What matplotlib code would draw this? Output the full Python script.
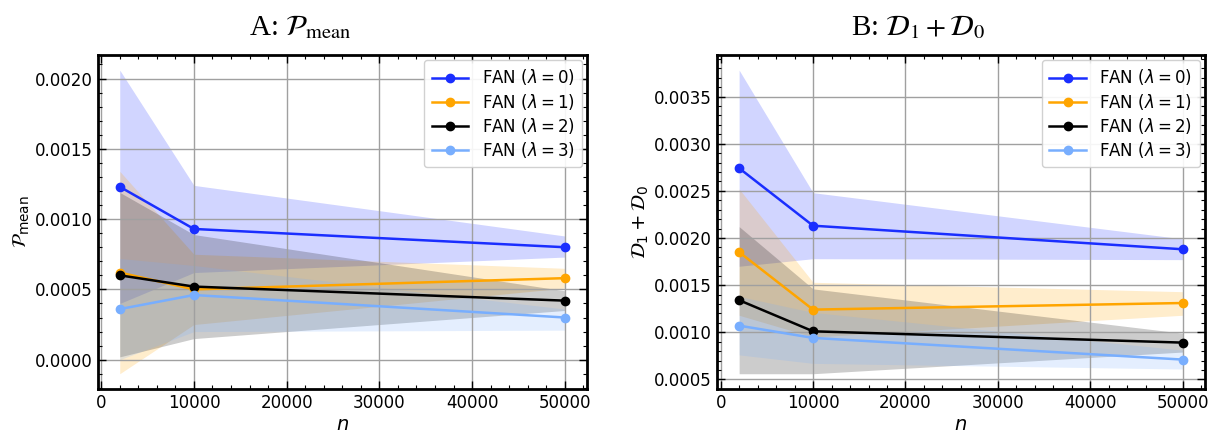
import numpy as np
import matplotlib
matplotlib.use("Agg")
import matplotlib.pyplot as plt
from matplotlib.ticker import AutoMinorLocator

# sample sizes
n_values = [2000, 10000, 50000]
labels = [r"FAN ($\lambda=0$)", r"FAN ($\lambda=1$)", r"FAN ($\lambda=2$)", r"FAN ($\lambda=3$)"]
colors = ["#1a2eff", "orange", "black", "#78aefe"]

# panel A: P_mean, mean and band (lower, upper)
pmean_mean = [
    [0.00123, 0.00093, 0.00080],
    [0.00062, 0.00050, 0.00058],
    [0.00060, 0.00052, 0.00042],
    [0.00036, 0.00046, 0.00030],
]
pmean_low = [
    [0.00040, 0.00062, 0.00073],
    [-0.00010, 0.00025, 0.00051],
    [0.00002, 0.00015, 0.00035],
    [0.00000, 0.00020, 0.00021],
]
pmean_high = [
    [0.00206, 0.00124, 0.00088],
    [0.00134, 0.00075, 0.00065],
    [0.00119, 0.00089, 0.00049],
    [0.00072, 0.00067, 0.00036],
]

# panel B: D1 + D0
d_mean = [
    [0.00274, 0.00213, 0.00188],
    [0.00185, 0.00124, 0.00131],
    [0.00134, 0.00101, 0.00089],
    [0.00107, 0.00094, 0.00071],
]
d_low = [
    [0.00170, 0.00178, 0.00177],
    [0.00118, 0.00095, 0.00118],
    [0.00056, 0.00056, 0.00079],
    [0.00076, 0.00067, 0.00061],
]
d_high = [
    [0.00378, 0.00248, 0.00199],
    [0.00252, 0.00153, 0.00143],
    [0.00212, 0.00146, 0.00099],
    [0.00138, 0.00121, 0.00081],
]

plt.rcParams["font.family"] = "DejaVu Sans"
plt.rcParams["mathtext.fontset"] = "dejavusans"


def style_axes(ax):
    ax.tick_params(which="both", direction="in", top=True, right=True, labelsize=12)
    ax.tick_params(which="major", length=6, width=1)
    ax.tick_params(which="minor", length=3, width=0.8)
    ax.xaxis.set_minor_locator(AutoMinorLocator(5))
    ax.yaxis.set_minor_locator(AutoMinorLocator(5))
    ax.grid(True, which="major", color="#a0a0a0", linewidth=1)
    for s in ax.spines.values():
        s.set_linewidth(2)


def draw_panel(ax, means, lows, highs, title, ylabel):
    for i in range(len(means)):
        ax.plot(n_values, means[i], "-o", color=colors[i], lw=1.8, ms=6, label=labels[i])
        ax.fill_between(n_values, lows[i], highs[i], color=colors[i], alpha=0.2, lw=0)
    style_axes(ax)
    ax.set_xlabel(r"$n$", fontsize=14, labelpad=2)
    ax.set_ylabel(ylabel, fontsize=14, labelpad=2)
    ax.set_title(title, fontsize=21, family="Liberation Serif", math_fontfamily="stix",
                 x=0.413, pad=14)
    ax.legend(loc="upper right", fontsize=12, framealpha=0.9, edgecolor="#cccccc",
              handlelength=2.2, borderpad=0.45, labelspacing=0.25, borderaxespad=0.3)


fig = plt.figure(figsize=(12.22, 4.36), dpi=100)
ax1 = fig.add_axes([0.0798, 0.108, 0.4006, 0.766])
ax2 = fig.add_axes([0.5867, 0.108, 0.3993, 0.766])

draw_panel(ax1, pmean_mean, pmean_low, pmean_high,
           r"A: $\mathcal{P}_{\rm mean}$", r"$\mathcal{P}_{\rm mean}$")
draw_panel(ax2, d_mean, d_low, d_high,
           r"B: $\mathcal{D}_1 + \mathcal{D}_0$", r"$\mathcal{D}_1 + \mathcal{D}_0$")

fig.savefig("out.png", dpi=100)
